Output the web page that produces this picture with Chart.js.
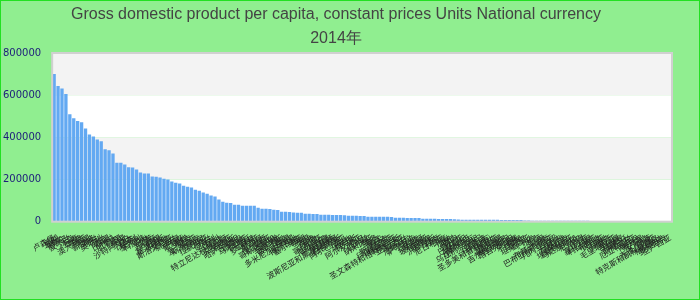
<!DOCTYPE html>
<html>
<head>
<meta charset="utf-8">
<script src="https://cdn.jsdelivr.net/npm/chart.js@4"></script>
<style>
  html, body { margin: 0; padding: 0; background: #90ee90; }
  #wrap { width: 700px; height: 300px; }
</style>
</head>
<body>
<div id="wrap"><canvas id="chart" width="700" height="300"></canvas></div>
<script>
// Title
const titleLines = ["Gross domestic product per capita, constant prices Units National currency", "2014年"];

// Countries, sorted by value
const countries = [
  "卢森堡", "挪威", "瑞士", "卡塔尔", "爱尔兰", "冰岛", "丹麦", "瑞典", "澳大利亚", "美国",
  "新加坡", "荷兰", "奥地利", "芬兰", "德国", "比利时", "加拿大", "法国", "英国", "沙特阿拉伯",
  "日本", "以色列", "意大利", "科威特", "巴林", "文莱", "西班牙", "韩国", "塞浦路斯", "马耳他",
  "斯洛文尼亚", "新西兰", "阿曼", "葡萄牙", "希腊", "捷克", "爱沙尼亚", "斯洛伐克", "立陶宛", "拉脱维亚",
  "波兰", "匈牙利", "智利", "乌拉圭", "特立尼达和多巴哥", "克罗地亚", "俄罗斯", "哈萨克斯坦", "巴拿马", "马来西亚",
  "阿根廷", "土耳其", "罗马尼亚", "墨西哥", "巴西", "保加利亚", "哥斯达黎加", "黎巴嫩", "毛里求斯", "委内瑞拉",
  "中国", "多米尼加共和国", "博茨瓦纳", "塞尔维亚", "伊朗", "泰国", "南非", "秘鲁", "哥伦比亚", "厄瓜多尔",
  "阿塞拜疆", "马其顿", "波斯尼亚和黑塞哥维那", "白俄罗斯", "阿尔巴尼亚", "黑山", "牙买加", "突尼斯", "阿尔及利亚", "约旦",
  "伯利兹", "纳米比亚", "斐济", "蒙古", "埃及", "斯里兰卡", "印度尼西亚", "格鲁吉亚", "圣文森特和格林纳丁斯", "亚美尼亚",
  "乌克兰", "危地马拉", "萨尔瓦多", "巴拉圭", "摩洛哥", "玻利维亚", "菲律宾", "洪都拉斯", "越南", "尼日利亚",
  "印度", "加纳", "老挝", "苏丹", "赞比亚", "巴基斯坦", "尼加拉瓜", "摩尔多瓦", "乌兹别克斯坦", "也门",
  "喀麦隆", "科特迪瓦", "圣多美和普林西比", "肯尼亚", "孟加拉国", "塞内加尔", "吉尔吉斯斯坦", "塔吉克斯坦", "柬埔寨", "缅甸",
  "尼泊尔", "坦桑尼亚", "乌干达", "贝宁", "多哥", "马里", "布基纳法索", "巴布亚新几内亚", "几内亚比绍", "卢旺达",
  "马拉维", "莫桑比克", "埃塞俄比亚", "马达加斯加", "尼日尔", "乍得", "几内亚", "塞拉利昂", "利比里亚", "布隆迪",
  "冈比亚", "海地", "阿富汗", "毛里塔尼亚", "吉布提", "科摩罗", "莱索托", "斯威士兰", "厄立特里亚", "南苏丹",
  "索马里", "安哥拉", "加蓬", "赤道几内亚", "特克斯和凯科斯群岛", "格林纳达", "多米尼克", "圣卢西亚"
];

// GDP per capita values; the last categories have no value
const gdpValues = [
  700000, 643000, 632000, 605000, 510000, 491000, 477000, 472000, 442000, 413000,
  404000, 390000, 382000, 344000, 339000, 323000, 280000, 279000, 271000, 258000,
  257000, 247000, 233000, 229000, 228000, 214000, 213000, 209000, 204000, 200000,
  190000, 185000, 181000, 171000, 166000, 162000, 152000, 147000, 138000, 133000,
  124000, 119000, 105000, 95000, 90000, 89000, 80000, 80000, 76000, 76000,
  75000, 75000, 66000, 61000, 61000, 60000, 57000, 56000, 47000, 47000,
  46000, 43000, 42000, 42000, 38000, 38000, 37000, 37000, 33000, 33000,
  33000, 32000, 32000, 32000, 31000, 28000, 28000, 28000, 27000, 27000,
  24000, 24000, 24000, 23000, 23000, 23000, 22000, 19000, 19000, 19000,
  18000, 18000, 18000, 17000, 14000, 14000, 14000, 14000, 13000, 13000,
  13000, 13000, 12000, 10000, 9600, 9500, 9500, 9300, 9100, 9000,
  9000, 8800, 8700, 8700, 8500, 8400, 8300, 8200, 8000, 7800,
  5200, 5100, 5000, 5000, 4900, 4800, 4700, 4700, 4600, 4500,
  4400, 4300, 4300, 4200, 4100, 4000, 3900, 3800, 3700
];

// Y axis ticks
const yTicks = [0, 200000, 400000, 600000, 800000];

// Background, bands and frames
const chartDecor = {
  id: "chartDecor",
  beforeDraw(chart) {
    const { ctx, chartArea: a, scales: { y } } = chart;
    ctx.save();
    ctx.fillStyle = "#90ee90";
    ctx.fillRect(0, 0, chart.width, chart.height);
    for (let i = 0; i < yTicks.length - 1; i++) {
      const top = y.getPixelForValue(yTicks[i + 1]);
      const bottom = y.getPixelForValue(yTicks[i]);
      ctx.fillStyle = i % 2 ? "#f3f3f3" : "#ffffff";
      ctx.fillRect(a.left, top, a.right - a.left, bottom - top);
    }
    ctx.restore();
  },
  afterDraw(chart) {
    const { ctx, chartArea: a } = chart;
    ctx.save();
    ctx.strokeStyle = "#d0d0d0";
    ctx.lineWidth = 2;
    ctx.strokeRect(a.left, a.top, a.right - a.left, a.bottom - a.top);
    ctx.strokeStyle = "#22e022";
    ctx.lineWidth = 2;
    ctx.strokeRect(0, 0, chart.width, chart.height);
    ctx.restore();
  }
};

new Chart(document.getElementById("chart"), {
  type: "bar",
  data: {
    labels: countries,
    datasets: [{
      data: gdpValues,
      backgroundColor: "#63a9f2",
      barPercentage: 0.85,
      categoryPercentage: 1
    }]
  },
  options: {
    responsive: false,
    animation: false,
    devicePixelRatio: 1,
    layout: { padding: { left: 0, right: 28, top: 3, bottom: 16 } },
    plugins: {
      legend: { display: false },
      tooltip: { enabled: false },
      title: {
        display: true,
        text: titleLines,
        color: "#444444",
        font: { family: "Liberation Sans", size: 16, weight: "normal", lineHeight: 1.5 },
        padding: { top: 0, bottom: 2 }
      }
    },
    scales: {
      x: {
        grid: { display: false },
        border: { display: false },
        ticks: {
          autoSkip: false,
          maxRotation: 30,
          minRotation: 30,
          color: "#222222",
          font: { family: "Noto Sans CJK SC", size: 8 }
        }
      },
      y: {
        min: 0,
        max: 800000,
        grid: { display: false },
        border: { display: false },
        ticks: {
          stepSize: 200000,
          color: "#1c1c7a",
          font: { family: "DejaVu Sans", size: 10 },
          callback: v => String(v)
        }
      }
    }
  },
  plugins: [chartDecor]
});
</script>
</body>
</html>
